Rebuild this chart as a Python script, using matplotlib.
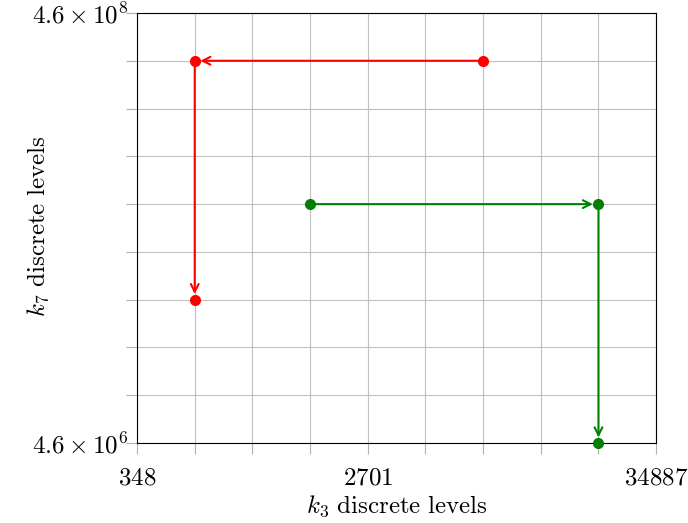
import matplotlib.pyplot as plt
from matplotlib.ticker import FixedLocator, NullFormatter

plt.rcParams['mathtext.fontset'] = 'cm'
plt.rcParams['font.family'] = 'serif'

# discrete levels (grid positions)
k3_levels = [348, 581, 969, 1617, 2701, 4507, 7520, 12547, 20935, 34887]
k7_levels = [4.6e6, 7.67e6, 1.28e7, 2.135e7, 3.56e7, 5.94e7, 9.91e7, 1.653e8, 2.758e8, 4.6e8]

k3_ticks = [348, 2701, 34887]
k3_labels = [r'$348$', r'$2701$', r'$34887$']
k7_ticks = [4.6e6, 4.6e8]
k7_labels = [r'$4.6 \times 10^6$', r'$4.6 \times 10^8$']

# paths (k3, k7)
red_x = [7520, 581, 581]
red_y = [2.758e8, 2.758e8, 2.135e7]
green_x = [1617, 20935, 20935]
green_y = [5.94e7, 5.94e7, 4.6e6]

fig = plt.figure(figsize=(6.88, 5.23), dpi=100)
ax = fig.add_axes([137/688, 1 - 443/523, (656-137)/688, (443-13)/523])
ax.set_xscale('log')
ax.set_yscale('log')
ax.set_xlim(k3_levels[0], k3_levels[-1])
ax.set_ylim(k7_levels[0], k7_levels[-1])

ax.xaxis.set_major_locator(FixedLocator(k3_ticks))
ax.xaxis.set_minor_locator(FixedLocator(k3_levels))
ax.yaxis.set_major_locator(FixedLocator(k7_ticks))
ax.yaxis.set_minor_locator(FixedLocator(k7_levels))
ax.set_xticklabels(k3_labels)
ax.set_yticklabels(k7_labels)
ax.xaxis.set_minor_formatter(NullFormatter())
ax.yaxis.set_minor_formatter(NullFormatter())
ax.tick_params(which='both', direction='out', length=8, width=0.8, color='#b0b0b0', labelsize=18)
ax.tick_params(axis='x', which='both', pad=9)
ax.tick_params(axis='y', which='both', pad=-2)
ax.grid(True, which='both', color='#c0c0c0', linewidth=0.8)
ax.set_axisbelow(True)
for s in ax.spines.values():
    s.set_linewidth(0.8)

for xs, ys, col in [(red_x, red_y, 'red'), (green_x, green_y, 'green')]:
    ax.plot(xs, ys, 'o', color=col, markersize=7, zorder=4, clip_on=False)
    for i in range(len(xs) - 1):
        ax.annotate('', xy=(xs[i+1], ys[i+1]), xytext=(xs[i], ys[i]),
                    arrowprops=dict(arrowstyle='->', color=col, lw=1.5,
                                    shrinkA=0, shrinkB=4, mutation_scale=14),
                    zorder=3, annotation_clip=False)

ax.set_xlabel(r'$k_3\ \mathrm{discrete\ levels}$', fontsize=18)
ax.set_ylabel(r'$k_7\ \mathrm{discrete\ levels}$', fontsize=18)
ax.xaxis.set_label_coords(0.5, -0.117)
ax.yaxis.set_label_coords(-0.166, 0.505)

fig.savefig('out.png', dpi=100)
